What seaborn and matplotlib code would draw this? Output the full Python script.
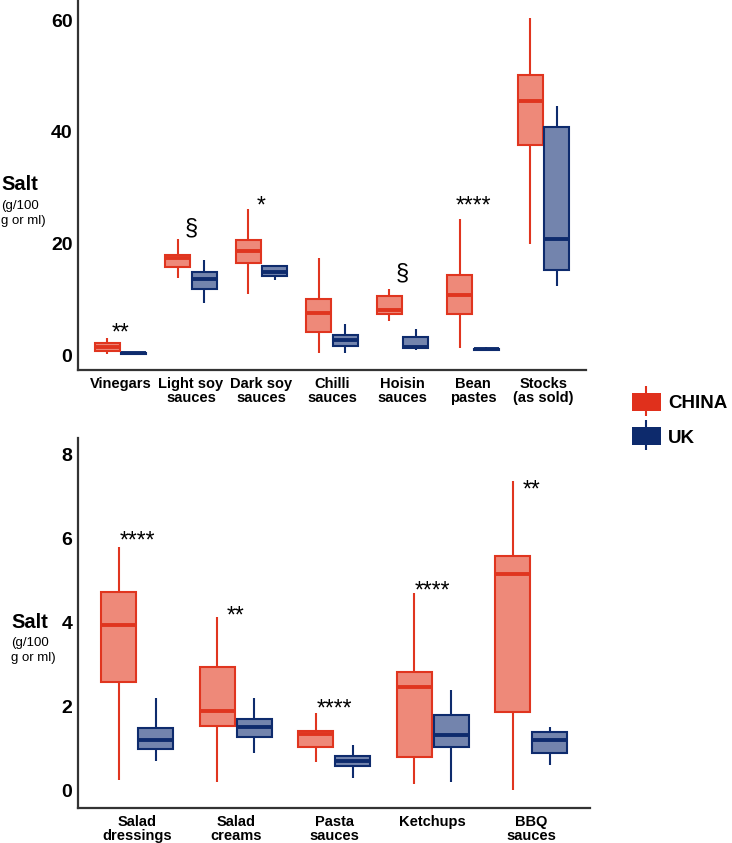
import pandas as pd
import matplotlib.pyplot as plt
import seaborn as sns
from matplotlib.patches import Patch
from matplotlib.lines import Line2D
from matplotlib.legend_handler import HandlerTuple

sns.set_style("white")
plt.rcParams["font.family"] = ["Liberation Sans", "DejaVu Sans"]
plt.rcParams["text.color"] = "black"
plt.rcParams["xtick.color"] = "black"
plt.rcParams["ytick.color"] = "black"

countries = ["CHINA", "UK"]
face_colors = ["#EE8979", "#7384AD"]
edge_colors = ["#E0351F", "#0E2B6D"]
legend_colors = ["#E0301C", "#0D2A6C"]

# five-number summaries: whisker low, Q1, median, Q3, whisker high
top_foods = ["Vinegars", "Light soy\nsauces", "Dark soy\nsauces", "Chilli\nsauces",
             "Hoisin\nsauces", "Bean\npastes", "Stocks\n(as sold)"]
top_china = [
    [0.2, 0.8, 1.4, 2.1, 3.0],
    [13.8, 15.8, 17.3, 18.0, 20.7],
    [10.9, 16.5, 18.7, 20.6, 26.2],
    [0.3, 4.2, 7.5, 10.1, 17.3],
    [6.1, 7.4, 8.0, 10.5, 11.8],
    [1.3, 7.3, 10.8, 14.4, 24.4],
    [19.8, 37.7, 45.5, 50.2, 60.3],
]
top_uk = [
    [0.1, 0.2, 0.3, 0.4, 0.5],
    [9.3, 11.8, 13.7, 14.8, 17.1],
    [13.5, 14.1, 14.9, 15.9, 16.0],
    [0.3, 1.6, 2.7, 3.6, 5.6],
    [0.9, 1.2, 1.5, 3.3, 4.6],
    [0.85, 0.95, 1.05, 1.15, 1.5],
    [12.4, 15.2, 20.8, 40.9, 44.6],
]
top_marks = ["**", "§", "*", "", "§", "****", ""]
top_mark_y = [3.9, 22.7, 26.7, 0, 14.6, 26.7, 0]

bottom_foods = ["Salad\ndressings", "Salad\ncreams", "Pasta\nsauces", "Ketchups", "BBQ\nsauces"]
bottom_china = [
    [0.26, 2.60, 3.94, 4.73, 5.80],
    [0.22, 1.55, 1.91, 2.94, 4.13],
    [0.68, 1.04, 1.36, 1.43, 1.86],
    [0.16, 0.80, 2.48, 2.84, 4.71],
    [0.02, 1.87, 5.17, 5.60, 7.38],
]
bottom_uk = [
    [0.70, 0.99, 1.21, 1.50, 2.21],
    [0.91, 1.29, 1.52, 1.71, 2.21],
    [0.30, 0.60, 0.72, 0.84, 1.10],
    [0.21, 1.04, 1.33, 1.81, 2.39],
    [0.62, 0.90, 1.21, 1.41, 1.52],
]
bottom_marks = ["****", "**", "****", "****", "**"]
bottom_mark_y = [5.95, 4.15, 1.94, 4.76, 7.17]


def make_frame(foods, china, uk):
    rows = []
    for food, c, u in zip(foods, china, uk):
        rows += [(food, "CHINA", v) for v in c]
        rows += [(food, "UK", v) for v in u]
    return pd.DataFrame(rows, columns=["food", "country", "salt"])


def draw_panel(ax, df, foods, marks, mark_y, ylim, yticks):
    sns.boxplot(data=df, x="food", y="salt", hue="country", order=foods,
                hue_order=countries, palette=face_colors, saturation=1,
                whis=(0, 100), showcaps=False, width=0.75, gap=0.06,
                linewidth=1.5, legend=False, ax=ax)
    # recolour outlines per country
    for cont, col in zip(ax.containers, edge_colors):
        for box in cont.boxes:
            box.set_edgecolor(col)
        for line in cont.whiskers:
            line.set_color(col)
        for line in cont.medians:
            line.set_color(col)
            line.set_linewidth(2.8)
    for i, (m, y) in enumerate(zip(marks, mark_y)):
        if m:
            size = 17 if m == "§" else 16.5
            ax.text(i, y, m, ha="center", va="center", fontsize=size)
    ax.set_xlim(-0.6, len(foods) - 0.4)
    ax.set_ylim(*ylim)
    ax.set_yticks(yticks)
    ax.set_xlabel("")
    ax.set_ylabel("")
    sns.despine(ax=ax)
    for s in ["left", "bottom"]:
        ax.spines[s].set_color("#333333")
        ax.spines[s].set_linewidth(1.6)
    ax.tick_params(axis="y", length=0, pad=4, labelsize=14, labelcolor="black")
    ax.tick_params(axis="x", length=0, pad=5, labelsize=10.5, labelcolor="black")
    for lab in ax.get_xticklabels() + ax.get_yticklabels():
        lab.set_fontweight("bold")
    for lab in ax.get_xticklabels():
        lab.set_linespacing(1.0)


fig = plt.figure(figsize=(7.32, 8.43), dpi=100)
ax1 = fig.add_axes([0.1066, 0.561, 0.694, 0.439])
ax2 = fig.add_axes([0.1066, 0.042, 0.700, 0.4384])

draw_panel(ax1, make_frame(top_foods, top_china, top_uk), top_foods,
           top_marks, top_mark_y, (-2.7, 63.6), [0, 20, 40, 60])
draw_panel(ax2, make_frame(bottom_foods, bottom_china, bottom_uk), bottom_foods,
           bottom_marks, bottom_mark_y, (-0.4, 8.4), [0, 2, 4, 6, 8])

# y-axis labels
fig.text(0.002, 0.781, "Salt", fontsize=14.5, fontweight="bold", va="center")
fig.text(0.002, 0.747, "(g/100\ng or ml)", fontsize=9.5, va="center", linespacing=1.35)
fig.text(0.015, 0.262, "Salt", fontsize=14.5, fontweight="bold", va="center")
fig.text(0.015, 0.228, "(g/100\ng or ml)", fontsize=9.5, va="center", linespacing=1.35)

handles = [(Patch(facecolor=c, edgecolor="none"),
            Line2D([], [], color=c, marker="|", markersize=21,
                   markeredgewidth=1.5, linestyle="none"))
           for c in legend_colors]
fig.legend(handles, countries, handler_map={tuple: HandlerTuple(ndivide=1)},
           loc="center left", bbox_to_anchor=(0.863, 0.502), frameon=False,
           prop={"weight": "bold", "size": 13.5}, handlelength=1.55,
           handleheight=1.1, handletextpad=0.4, labelspacing=0.8,
           borderaxespad=0, borderpad=0)

fig.savefig("out.png", dpi=100)
